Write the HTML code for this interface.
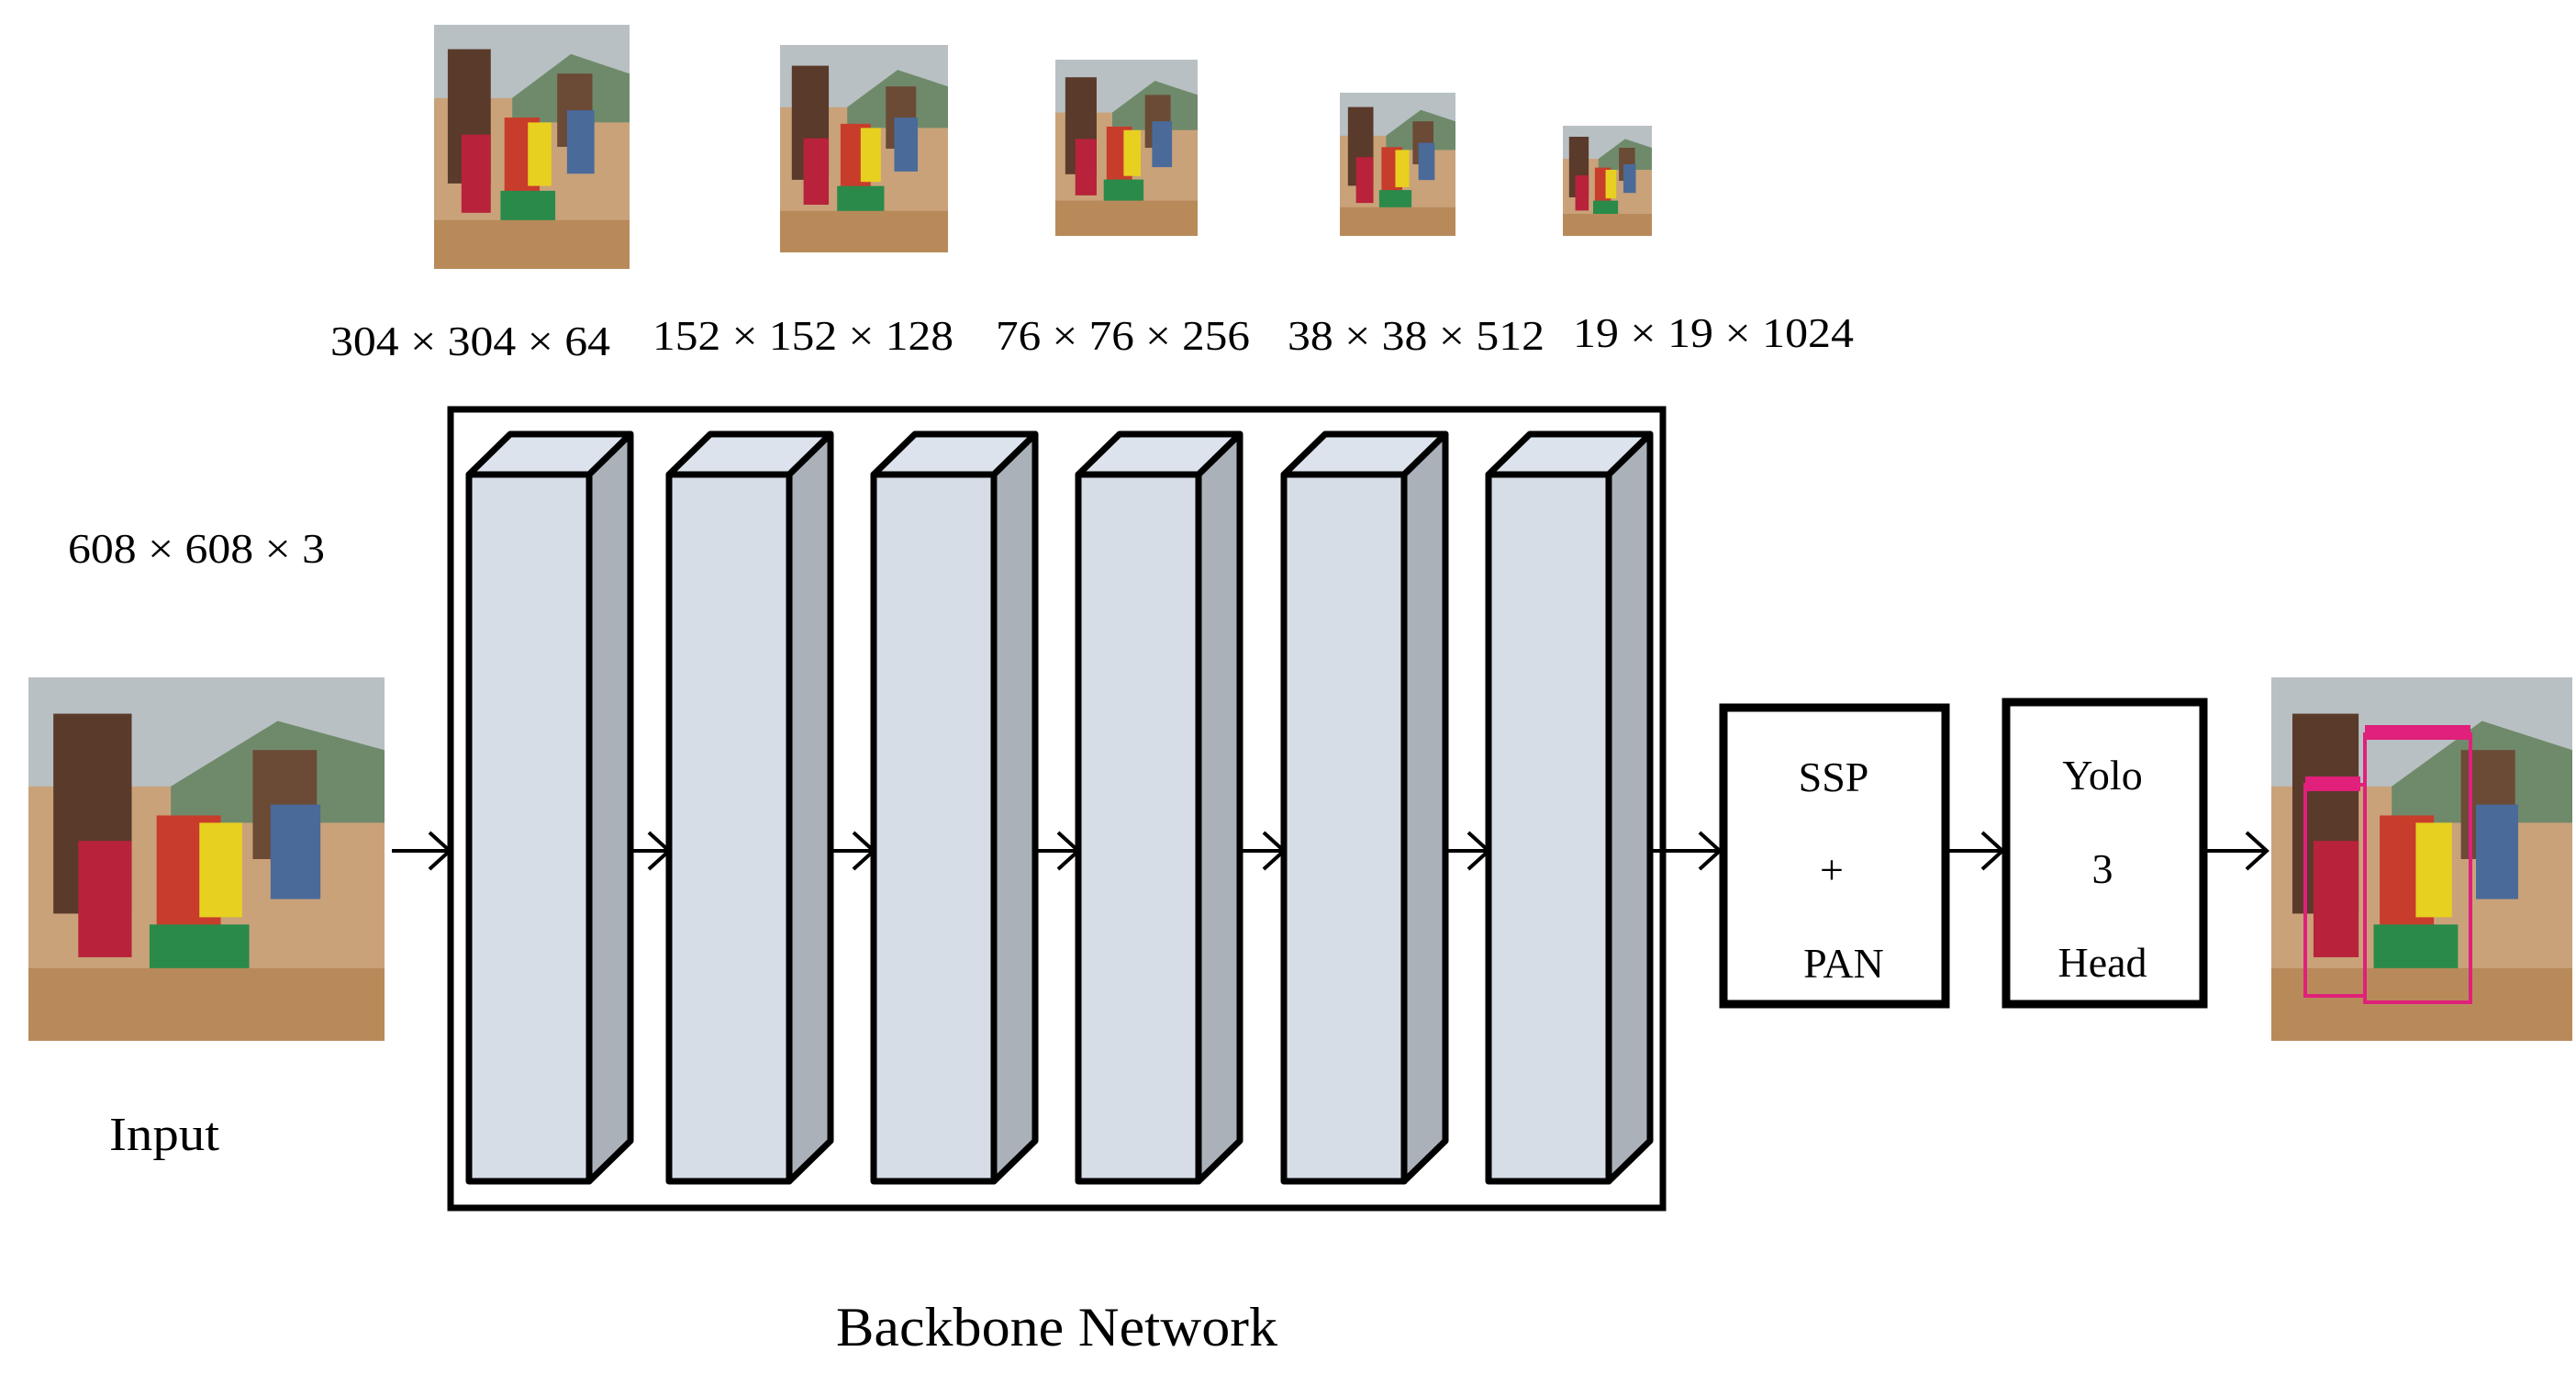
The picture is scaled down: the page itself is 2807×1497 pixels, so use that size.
<!DOCTYPE html>
<html><head><meta charset="utf-8"><style>html,body{margin:0;padding:0;background:#fff}svg{display:block}</style></head>
<body>
<svg width="2807" height="1497" viewBox="0 0 2807 1497" xmlns="http://www.w3.org/2000/svg" font-family="Liberation Serif, serif">
<defs>
<symbol id="ph" viewBox="0 0 100 100" preserveAspectRatio="none">
<rect width="100" height="100" fill="#c9a27a"/>
<rect width="100" height="30" fill="#b8c0c4"/>
<polygon points="40,30 70,12 100,20 100,40 40,40" fill="#6f8a6a"/>
<rect x="7" y="10" width="22" height="55" fill="#5a3a2a"/>
<rect x="63" y="20" width="18" height="30" fill="#6b4a36"/>
<rect x="14" y="45" width="15" height="32" fill="#b8223a"/>
<rect x="36" y="38" width="18" height="40" fill="#c83c2c"/>
<rect x="48" y="40" width="12" height="26" fill="#e8d020"/>
<rect x="34" y="68" width="28" height="18" fill="#2a8a4a"/>
<rect x="68" y="35" width="14" height="26" fill="#4a6a9a"/>
<rect x="0" y="80" width="100" height="20" fill="#b88a5a"/>
</symbol>
</defs>
<g font-size="46" fill="#000">
<text x="360" y="387" textLength="305" lengthAdjust="spacingAndGlyphs">304 × 304 × 64</text>
<text x="711" y="381" textLength="328" lengthAdjust="spacingAndGlyphs">152 × 152 × 128</text>
<text x="1085" y="381" textLength="277" lengthAdjust="spacingAndGlyphs">76 × 76 × 256</text>
<text x="1403" y="381" textLength="280" lengthAdjust="spacingAndGlyphs">38 × 38 × 512</text>
<text x="1714" y="378" textLength="306" lengthAdjust="spacingAndGlyphs">19 × 19 × 1024</text>
<text x="74" y="613" textLength="280" lengthAdjust="spacingAndGlyphs">608 × 608 × 3</text>
<text x="119" y="1253" textLength="120" lengthAdjust="spacingAndGlyphs" font-size="52">Input</text>
<text x="911" y="1466" textLength="481" lengthAdjust="spacingAndGlyphs" font-size="60">Backbone Network</text>
</g>
<use href="#ph" x="473" y="27" width="213" height="266"/>
<use href="#ph" x="850" y="49" width="183" height="226"/>
<use href="#ph" x="1150" y="65" width="155" height="192"/>
<use href="#ph" x="1460" y="101" width="126" height="156"/>
<use href="#ph" x="1703" y="137" width="97" height="120"/>
<use href="#ph" x="31" y="738" width="388" height="396"/>
<use href="#ph" x="2475" y="738" width="328" height="396"/>
<rect x="2512" y="855" width="65" height="230" fill="none" stroke="#e0207a" stroke-width="4"/>
<rect x="2577" y="800" width="115" height="292" fill="none" stroke="#e0207a" stroke-width="4"/>
<rect x="2512" y="846" width="60" height="16" fill="#e0207a"/>
<rect x="2577" y="790" width="115" height="16" fill="#e0207a"/>
<rect x="491" y="446" width="1321" height="870" fill="none" stroke="#000" stroke-width="7"/>
<g stroke="#000" stroke-width="7" stroke-linejoin="round">
<g id="c1">
<polygon points="511,517 556,473 687,473 642,517" fill="#dce3ec"/>
<polygon points="642,517 687,473 687,1243 642,1287" fill="#aab1b9"/>
<rect x="511" y="517" width="131" height="770" fill="#d6dde7"/>
</g>
<use href="#c1" x="218"/>
<use href="#c1" x="441"/>
<use href="#c1" x="664"/>
<use href="#c1" x="888"/>
<use href="#c1" x="1111"/>
</g>
<g stroke="#000" stroke-width="4" fill="none">
<path d="M427,927 H490 M468,907 L490,927 L468,947"/>
<path d="M687,927 H729 M707,907 L729,927 L707,947"/>
<path d="M906,927 H952 M930,907 L952,927 L930,947"/>
<path d="M1129,927 H1175 M1153,907 L1175,927 L1153,947"/>
<path d="M1352,927 H1399 M1377,907 L1399,927 L1377,947"/>
<path d="M1575,927 H1622 M1600,907 L1622,927 L1600,947"/>
<path d="M1798,927 H1874 M1852,907 L1874,927 L1852,947"/>
<path d="M2122,927 H2182 M2160,907 L2182,927 L2160,947"/>
<path d="M2403,927 H2470 M2448,907 L2470,927 L2448,947"/>
</g>
<rect x="1878" y="771" width="242" height="323" fill="#fff" stroke="#000" stroke-width="9"/>
<rect x="2186" y="765" width="215" height="329" fill="#fff" stroke="#000" stroke-width="9"/>
<g font-size="46" text-anchor="middle">
<text x="1998" y="862">SSP</text>
<text x="1996" y="963">+</text>
<text x="2009" y="1065">PAN</text>
<text x="2291" y="860">Yolo</text>
<text x="2291" y="962">3</text>
<text x="2291" y="1064">Head</text>
</g>
</svg>
</body></html>
